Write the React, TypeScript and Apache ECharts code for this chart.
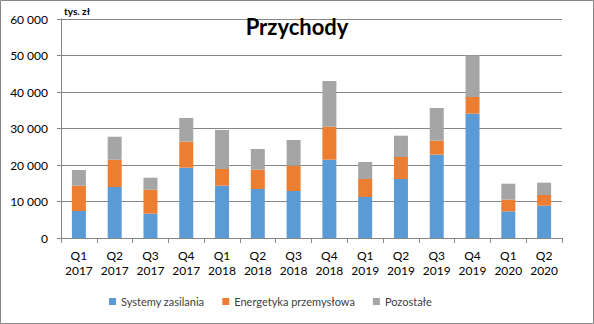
import React, { useEffect, useRef } from "react";
import * as echarts from "echarts";

const categories = [
  "Q1\n2017", "Q2\n2017", "Q3\n2017", "Q4\n2017",
  "Q1\n2018", "Q2\n2018", "Q3\n2018", "Q4\n2018",
  "Q1\n2019", "Q2\n2019", "Q3\n2019", "Q4\n2019",
  "Q1\n2020", "Q2\n2020",
];
const systemyZasilania = [7400, 13970, 6660, 19260, 14330, 13420, 12880, 21450, 11230, 16160, 22830, 34060, 7300, 8860];
const energetykaPrzemyslowa = [6930, 7480, 6570, 7130, 4570, 5300, 6940, 9050, 4930, 6030, 3840, 4570, 3200, 2920];
const pozostale = [4300, 6300, 3290, 6490, 10690, 5660, 7030, 12510, 4660, 5840, 8950, 11370, 4380, 3380];
const seriesNames = ["Systemy zasilania", "Energetyka przemysłowa", "Pozostałe"];
const colors = ["#5B9BD5", "#ED7D31", "#A5A5A5"];

const FONT = "Lato, 'Open Sans', sans-serif";

export default function App() {
  const ref = useRef<HTMLDivElement>(null);
  useEffect(() => {
    document.body.style.margin = "0";
    if (!ref.current) return;
    const chart = echarts.init(ref.current, undefined, { renderer: "svg" });
    const fmt = (v: number) => String(v).replace(/\B(?=(\d{3})+(?!\d))/g, " ");
    const data = [systemyZasilania, energetykaPrzemyslowa, pozostale];
    chart.setOption({
      animation: false,
      textStyle: { fontFamily: FONT },
      title: {
        text: "Przychody",
        left: "center",
        top: 10,
        textStyle: { fontFamily: FONT, fontSize: 22, fontWeight: "bold", color: "#000" },
      },
      graphic: [
        {
          type: "rect",
          shape: { x: 0.5, y: 0.5, width: 593, height: 323 },
          style: { fill: "none", stroke: "#868686", lineWidth: 1 },
          silent: true,
        },
        {
          type: "text",
          left: 64,
          top: 6,
          style: { text: "tys. zł", font: `bold 10px ${FONT}`, fill: "#000" },
        },
      ],
      legend: {
        data: seriesNames,
        bottom: 12,
        left: 104,
        icon: "rect",
        itemWidth: 7,
        itemHeight: 7,
        itemGap: 18,
        textStyle: { fontFamily: FONT, fontSize: 11, color: "#404040" },
      },
      grid: { left: 61, right: 32, top: 19, bottom: 86, containLabel: false },
      xAxis: {
        type: "category",
        data: categories,
        axisLine: { lineStyle: { color: "#868686" } },
        axisTick: { show: true, length: 5, lineStyle: { color: "#868686" } },
        axisLabel: { color: "#000", fontSize: 12, fontFamily: FONT, lineHeight: 15, margin: 10, interval: 0 },
      },
      yAxis: {
        type: "value",
        min: 0,
        max: 60000,
        interval: 10000,
        axisLine: { show: true, lineStyle: { color: "#868686" } },
        axisTick: { show: true, length: 4, lineStyle: { color: "#868686" } },
        splitLine: { lineStyle: { color: "#868686" } },
        axisLabel: { color: "#000", fontSize: 12, fontFamily: FONT, margin: 13, formatter: fmt },
      },
      series: seriesNames.map((name, i) => ({
        name,
        type: "bar",
        stack: "total",
        barWidth: 14,
        data: data[i],
        itemStyle: { color: colors[i] },
      })),
    });
    return () => chart.dispose();
  }, []);
  return <div ref={ref} style={{ width: 594, height: 324 }} />;
}
